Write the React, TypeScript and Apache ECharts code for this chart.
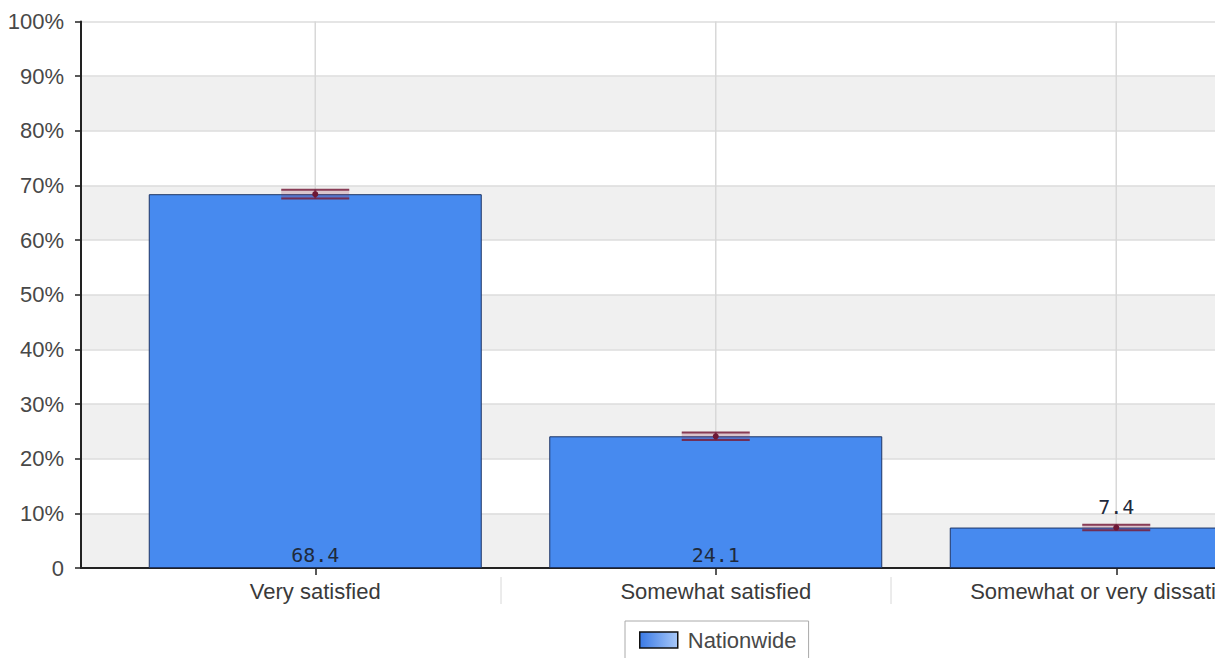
import React, { useEffect, useRef } from "react";
import * as echarts from "echarts";

const categories = ["Very satisfied", "Somewhat satisfied", "Somewhat or very dissatisfied"];
const values = [68.4, 24.1, 7.4];
const errLow = [67.6, 23.4, 6.9];
const errHigh = [69.2, 24.8, 7.9];
const labelPositions = ["insideBottom", "insideBottom", "top"];
const yTicks = [0, 10, 20, 30, 40, 50, 60, 70, 80, 90, 100];
const seriesName = "Nationwide";

export default function App() {
  const ref = useRef<HTMLDivElement>(null);
  useEffect(() => {
    if (!ref.current) return;
    const chart = echarts.init(ref.current, null, { renderer: "svg" });
    const font = "'Liberation Sans', Arial, sans-serif";
    const option: any = {
      animation: false,
      backgroundColor: "#ffffff",
      grid: [
        { left: 81, top: 21.5, width: 1300, height: 546.5 },
        { left: 115, top: 21.5, width: 1201.5, height: 546.5 },
      ],
      xAxis: [
        {
          gridIndex: 0,
          type: "value",
          min: 0,
          max: 1,
          axisLine: { show: true, lineStyle: { color: "#222", width: 2 } },
          axisTick: { show: false },
          axisLabel: { show: false },
          splitLine: { show: false },
        },
        {
          gridIndex: 1,
          type: "category",
          data: categories,
          axisLine: { show: false },
          axisTick: { show: true, alignWithLabel: true, length: 7, lineStyle: { color: "#222", width: 1.5 } },
          axisLabel: { show: true, fontFamily: font, fontSize: 22, color: "#3a3a3a", margin: 12, interval: 0 },
          splitLine: { show: false },
        },
      ],
      yAxis: [
        {
          gridIndex: 0,
          type: "value",
          min: yTicks[0],
          max: yTicks[yTicks.length - 1],
          interval: 10,
          axisLine: { show: true, lineStyle: { color: "#222", width: 2 } },
          axisTick: { show: true, length: 6, lineStyle: { color: "#222", width: 1.5 } },
          axisLabel: {
            fontFamily: font,
            fontSize: 22,
            color: "#484848",
            margin: 17,
            formatter: (v: number) => (v === 0 ? "0" : v + "%"),
          },
          splitLine: { show: true, lineStyle: { color: "#dcdcdc", width: 1.5 } },
          splitArea: { show: true, areaStyle: { color: ["#f0f0f0", "#ffffff"] } },
        },
        {
          gridIndex: 1,
          type: "value",
          min: 0,
          max: 100,
          show: false,
        },
      ],
      legend: {
        show: true,
        left: 625,
        top: 621,
        orient: "horizontal",
        padding: [8, 12, 9, 14],
        borderColor: "#aaa",
        borderWidth: 1,
        backgroundColor: "#fff",
        itemWidth: 38,
        itemHeight: 16,
        icon: "rect",
        textStyle: { fontFamily: font, fontSize: 22, color: "#484848", padding: [0, 0, 0, 5] },
        data: [
          {
            name: seriesName,
            itemStyle: {
              color: new echarts.graphic.LinearGradient(0, 0, 1, 0, [
                { offset: 0, color: "#3a7ae6" },
                { offset: 1, color: "#a8c8f8" },
              ]),
              borderColor: "#111",
              borderWidth: 1.5,
            },
          },
        ],
      },
      graphic: [
        { type: "line", shape: { x1: 501, y1: 577, x2: 501, y2: 604 }, style: { stroke: "#d8d8d8", lineWidth: 1 } },
        { type: "line", shape: { x1: 891, y1: 577, x2: 891, y2: 604 }, style: { stroke: "#d8d8d8", lineWidth: 1 } },
      ],
      series: [
        {
          type: "custom",
          name: "vgrid",
          xAxisIndex: 1,
          yAxisIndex: 1,
          z: 1,
          silent: true,
          data: categories.map((_, i) => [i]),
          renderItem: (params: any, api: any) => {
            const i = api.value(0);
            const p0 = api.coord([i, 0]);
            const p1 = api.coord([i, 100]);
            return {
              type: "line",
              shape: { x1: p0[0], y1: p0[1], x2: p1[0], y2: p1[1] },
              style: { stroke: "#d8d8d8", lineWidth: 1.5 },
            };
          },
        },
        {
          type: "bar",
          name: seriesName,
          xAxisIndex: 1,
          yAxisIndex: 1,
          z: 2,
          barWidth: 333,
          itemStyle: { color: "#478aef", borderColor: "#1e3566", borderWidth: 1 },
          data: values.map((v, i) => ({
            value: v,
            label: {
              show: true,
              position: labelPositions[i],
              distance: labelPositions[i] === "top" ? 11 : 3,
              fontFamily: "'DejaVu Sans Mono', monospace",
              fontSize: 20,
              color: "#1f2a3c",
              formatter: (p: any) => String(p.value),
            },
          })),
        },
        {
          type: "custom",
          name: "errors",
          xAxisIndex: 1,
          yAxisIndex: 1,
          z: 3,
          silent: true,
          data: values.map((v, i) => [i, errLow[i], errHigh[i], v]),
          renderItem: (params: any, api: any) => {
            const i = api.value(0);
            const lo = api.coord([i, api.value(1)]);
            const hi = api.coord([i, api.value(2)]);
            const mid = api.coord([i, api.value(3)]);
            const hw = 34;
            const stroke = "rgba(120,30,60,0.85)";
            return {
              type: "group",
              children: [
                {
                  type: "rect",
                  shape: { x: mid[0] - hw, y: hi[1], width: hw * 2, height: lo[1] - hi[1] },
                  style: { fill: "rgba(140,40,80,0.22)" },
                },
                { type: "line", shape: { x1: mid[0] - hw, y1: hi[1], x2: mid[0] + hw, y2: hi[1] }, style: { stroke, lineWidth: 2 } },
                { type: "line", shape: { x1: mid[0] - hw, y1: lo[1], x2: mid[0] + hw, y2: lo[1] }, style: { stroke, lineWidth: 2 } },
                { type: "line", shape: { x1: mid[0], y1: hi[1], x2: mid[0], y2: lo[1] }, style: { stroke, lineWidth: 2 } },
                { type: "circle", shape: { cx: mid[0], cy: mid[1], r: 3 }, style: { fill: "#6e1836" } },
              ],
            };
          },
        },
      ],
    };
    chart.setOption(option);
    return () => chart.dispose();
  }, []);
  return (
    <div style={{ position: "absolute", left: 0, top: 0, width: 1215, height: 658, overflow: "hidden", background: "#fff" }}>
      <div ref={ref} style={{ width: 1450, height: 658 }} />
    </div>
  );
}
